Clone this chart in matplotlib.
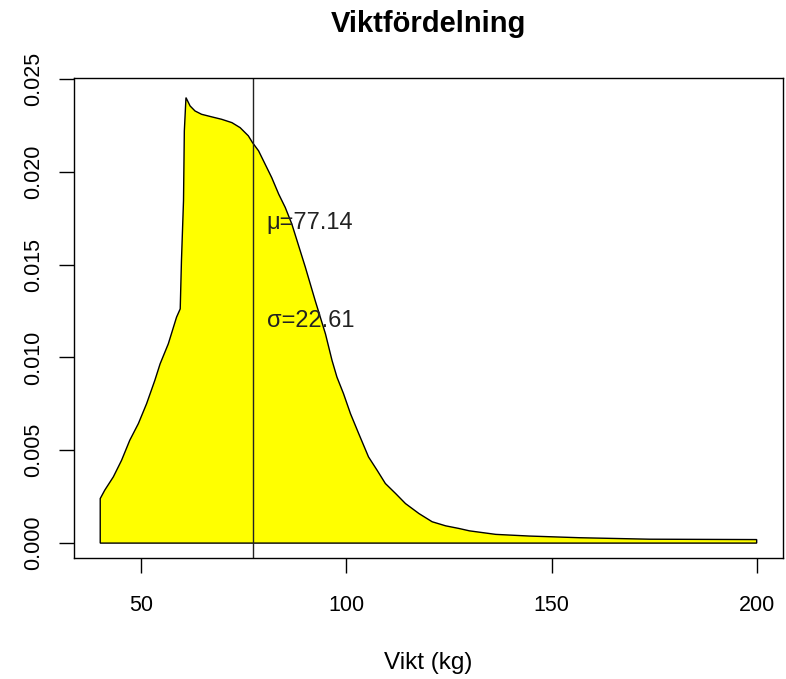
import matplotlib.pyplot as plt

plt.rcParams['font.family'] = ['Liberation Sans', 'DejaVu Sans']

# Density curve (weight in kg, density)
weight = [40.0, 41.1, 43.2, 45.2, 47.2, 49.3, 51.3, 53.3, 54.6, 56.6, 58.6, 59.5,
          59.8, 60.3, 60.5, 60.9, 61.9, 63.1, 64.7, 67.2, 69.6, 72.1, 74.1, 76.1,
          77.1, 78.6, 80.2, 81.8, 83.5, 85.1, 86.7, 90.0, 92.4, 94.9, 96.5, 97.7,
          99.3, 101.0, 103.0, 105.4, 107.5, 109.5, 112.0, 114.4, 117.7, 120.9,
          124.2, 127.4, 130.0, 136.4, 144.6, 156.8, 173.9, 200.0]
density = [0.00240, 0.00285, 0.00357, 0.00446, 0.00554, 0.00644, 0.00751, 0.00876,
           0.00966, 0.01074, 0.01217, 0.01262, 0.01522, 0.01844, 0.02220, 0.02400,
           0.02355, 0.02328, 0.02310, 0.02296, 0.02283, 0.02265, 0.02238, 0.02194,
           0.02158, 0.02113, 0.02041, 0.01969, 0.01880, 0.01808, 0.01719, 0.01486,
           0.01306, 0.01127, 0.00984, 0.00894, 0.00805, 0.00697, 0.00590, 0.00464,
           0.00392, 0.00321, 0.00267, 0.00213, 0.00159, 0.00115, 0.00093, 0.00079,
           0.00066, 0.00047, 0.00038, 0.00029, 0.00021, 0.00019]

mu = 77.14
sigma = 22.61

x_ticks = [50, 100, 150, 200]
y_ticks = [0.000, 0.005, 0.010, 0.015, 0.020, 0.025]
y_labels = ['0.000', '0.005', '0.010', '0.015', '0.020', '0.025']

fig = plt.figure(figsize=(7.86, 6.79), dpi=100)
ax = fig.add_axes([0.0941, 0.178, 0.902, 0.707])

# filled density polygon, closed down to zero at both ends
px = [weight[0]] + weight + [weight[-1]]
py = [0] + density + [0]
ax.fill(px, py, facecolor='#ffff00', edgecolor='black', linewidth=1.0)
ax.axvline(mu, color='#222222', linewidth=1.0)

ax.text(80.6, 0.01727, '\u03bc=%.2f' % mu, fontsize=17, color='#222222',
        ha='left', va='center')
ax.text(80.6, 0.01199, '\u03c3=%.2f' % sigma, fontsize=17, color='#222222',
        ha='left', va='center')

ax.set_xlim(33.6, 206.4)
ax.set_ylim(-0.00081, 0.02505)
ax.set_xticks(x_ticks)
ax.set_yticks(y_ticks)
ax.set_yticklabels(y_labels, rotation=90, va='center')
ax.tick_params(direction='out', length=10.5, width=1, labelsize=15.5,
               colors='black')
ax.tick_params(axis='x', pad=16)
ax.tick_params(axis='y', pad=11)
for s in ax.spines.values():
    s.set_linewidth(1)

ax.set_title('Viktf\u00f6rdelning', fontsize=21, fontweight='bold', pad=33)
ax.set_xlabel('Vikt (kg)', fontsize=17.5, labelpad=26)

plt.savefig('out.png', dpi=100)
